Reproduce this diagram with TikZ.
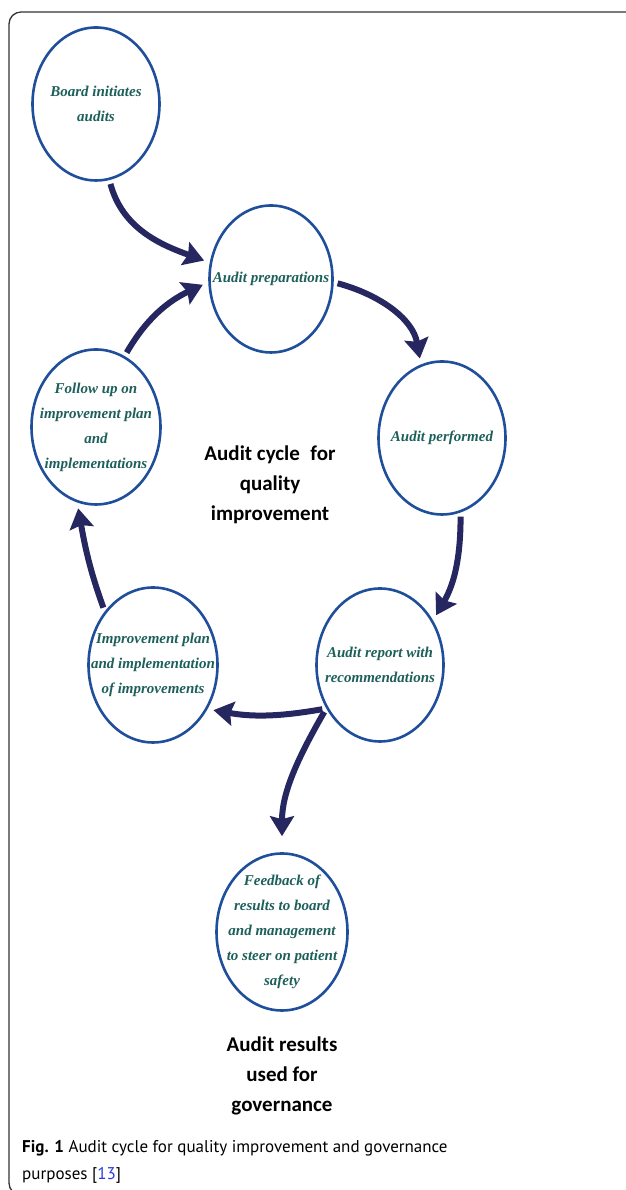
\documentclass[tikz,border=0pt]{standalone}
\usepackage{fontspec}
\setmainfont{Liberation Serif}
\newfontfamily\headfont{Carlito}
\newfontfamily\capfont{PT Sans}
\usepackage{xcolor}
\usetikzlibrary{shapes.geometric, arrows.meta, positioning}

\definecolor{ringblue}{HTML}{1F4E9B}
\definecolor{stageteal}{HTML}{1D5F5A}
\definecolor{flownavy}{HTML}{262660}
\definecolor{framegray}{HTML}{333333}
\definecolor{citeblue}{HTML}{2A3BE0}

\begin{document}
\begin{tikzpicture}[x=1pt, y=1pt,
    stage/.style={draw=ringblue, line width=2.6pt, ellipse, inner sep=0pt,
                  minimum width=127pt, minimum height=153pt},
    stagetxt/.style={align=center, text=stageteal,
                     font=\fontsize{15}{25}\selectfont\bfseries\itshape},
    heading/.style={align=center, font=\headfont\bfseries\fontsize{21}{30}\selectfont},
    flow/.style={draw=flownavy, line width=6pt,
                 -{Stealth[length=20pt,width=24pt,inset=3pt]},
                 shorten <=4pt, shorten >=6pt}]
  \useasboundingbox (0,0) rectangle (625,1190);
  % frame of the figure
  \draw[framegray, line width=1.3pt, rounded corners=12pt] (9,-5) rectangle (645,1178);

  % stages
  \node[stage] (board) at (96,1086) {};
  \node[stagetxt] (boardtxt) at (board) {Board initiates\\audits};
  \node[stage, minimum width=123pt, minimum height=147pt] (prep) at (271,911) {};
  \node[stagetxt] (preptxt) at (prep) {Audit preparations};
  \node[stage] (perf) at (442,752) {};
  \node[stagetxt] (perftxt) at (perf) {Audit performed};
  \node[stage] (report) at (380,525) {};
  \node[stagetxt] (reporttxt) at (report) {Audit report with\\recommendations};
  \node[stage, minimum width=129pt, minimum height=155pt] (impr) at (153,525) {};
  \node[stagetxt] (imprtxt) at (impr) {Improvement plan\\and implementation\\of improvements};
  \node[stage, minimum width=129pt, minimum height=155pt] (follow) at (96,763) {};
  \node[stagetxt] (followtxt) at (follow) {Follow up on\\improvement plan\\and\\implementations};
  \node[stage, minimum width=131pt, minimum height=157pt] (feed) at (282,258) {};
  \node[stagetxt] (feedtxt) at (feed) {Feedback of\\results to board\\and management\\to steer on patient\\safety};

  % headings
  \node[heading] (cycle) at (270,705) {Audit cycle\enspace for\\quality\\improvement};
  \node[heading] (results) at (282,114) {Audit results\\used for\\governance};

  % arrows
  \draw[flow] (board.-80) to[out=-75, in=160] (prep.165);
  \draw[flow] (prep.-3) to[out=-15, in=100] (perf.106);
  \draw[flow] (perf.-76) to[out=-90, in=60] (report.40);
  \draw[flow] (report.-141) to[out=190, in=-10] (impr.-39);
  \draw[flow, shorten >=16pt] (report.-141) to[out=-120, in=90] (feed.north);
  \draw[flow] (impr.132) to[out=110, in=-80] (follow.-104);
  \draw[flow] (follow.68) to[out=60, in=205] (prep.183);

  % caption
  \node[anchor=base west, align=left, inner sep=0pt,
        font=\capfont\fontsize{17}{27}\selectfont] (caption) at (22,10)
    {\textbf{Fig. 1} Audit cycle for quality improvement and governance\\
     purposes [\textcolor{citeblue}{13}]};
\end{tikzpicture}
\end{document}
